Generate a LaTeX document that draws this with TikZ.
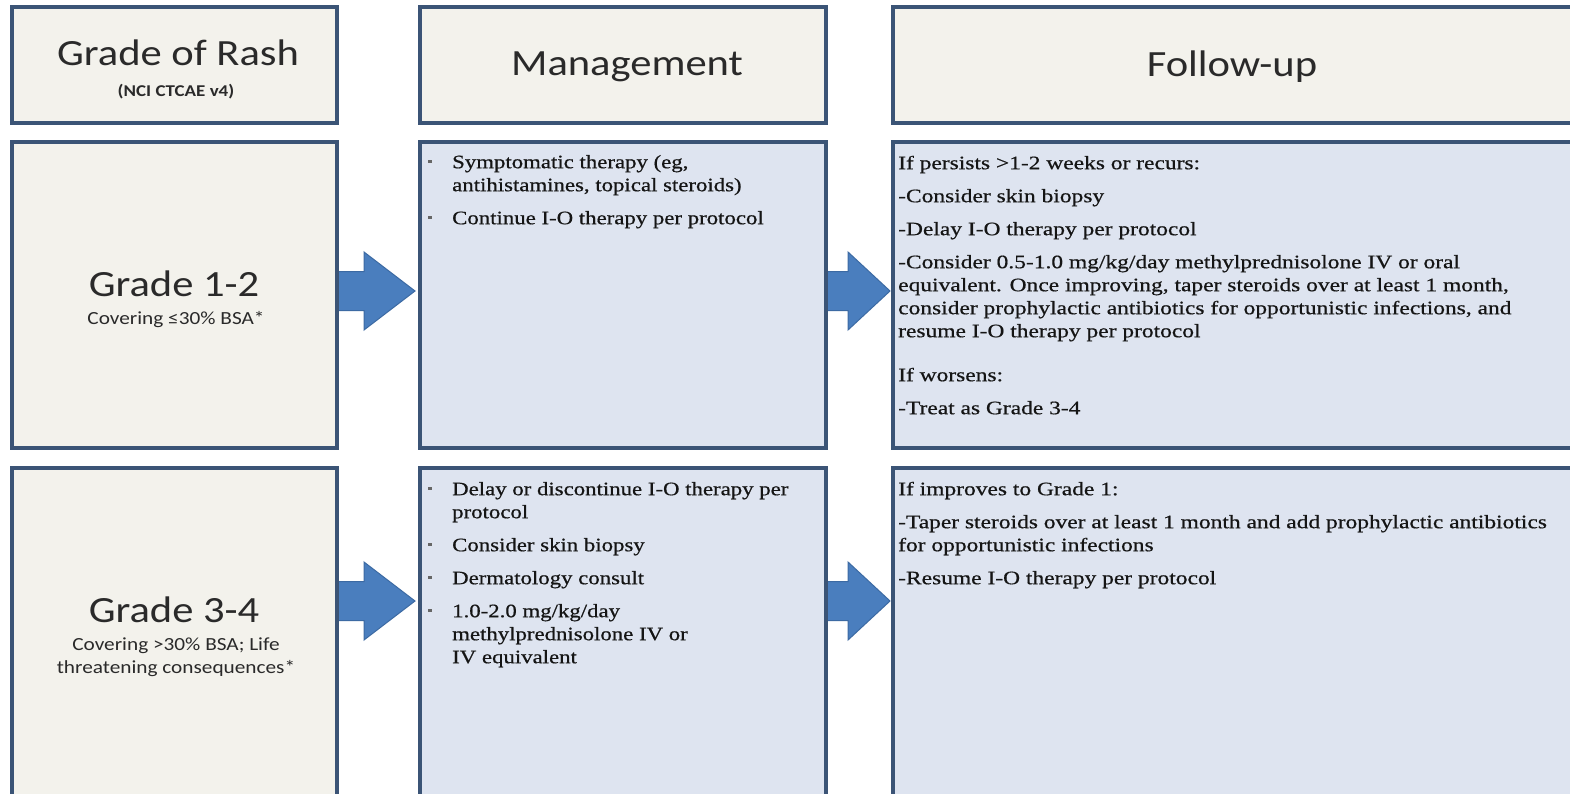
\documentclass[tikz,border=0pt]{standalone}
\usepackage{fontspec}
\setmainfont{Liberation Serif}[FakeStretch=1.2,FakeBold=0.6]
\newfontfamily\fufont{Liberation Serif}[FakeStretch=1.235,FakeBold=0.6]
\newfontfamily\headfont{Carlito}[FakeStretch=1.15]
\usetikzlibrary{calc}
\definecolor{bordc}{HTML}{3B5476}
\definecolor{cream}{HTML}{F3F2EC}
\definecolor{pale}{HTML}{DEE4F0}
\definecolor{arrfill}{HTML}{4A7EBE}
\definecolor{arrline}{HTML}{3C6AA3}
\definecolor{headtxt}{HTML}{2A2A2A}
\definecolor{bodytxt}{HTML}{151515}
\newcommand{\bul}{\makebox[24pt][l]{\textcolor{gray!80!black}{\rule[5pt]{3.5pt}{3pt}}}}
\newcommand{\ind}{\hspace*{24pt}}
\begin{document}
\begin{tikzpicture}[x=1pt,y=-1pt,
 box/.style={draw=bordc, line width=3.2pt, anchor=north west, inner sep=0pt, outer sep=0pt},
 creambox/.style={box, fill=cream},
 infobox/.style={box, fill=pale},
 bigtxt/.style={font=\headfont\fontsize{37}{40}\selectfont, text=headtxt, inner sep=0pt, anchor=center},
 subtxt/.style={font=\headfont\fontsize{18.5}{23}\selectfont, text=headtxt, inner sep=0pt, align=center},
 body/.style={font=\fontsize{19}{23}\selectfont, text=bodytxt, inner sep=0pt, anchor=north west, align=left},
 fubody/.style={body, font=\fufont\fontsize{19}{23}\selectfont},
 blockarr/.style={fill=arrfill, draw=arrline, line width=1pt, line join=miter}]

\useasboundingbox (0,0) rectangle (1570,794);
\clip (0,0) rectangle (1570,794);
\fill[white] (0,0) rectangle (1570,794);

% header row
\node[creambox, minimum width=325pt, minimum height=116pt] (h1) at (12,7) {};
\node[creambox, minimum width=406pt, minimum height=116pt] (h2) at (420,7) {};
\node[creambox, minimum width=679pt, minimum height=116pt] (h3) at (893,7) {};
% row 1
\node[creambox, minimum width=325pt, minimum height=306pt] (r1c1) at (12,142) {};
\node[infobox, minimum width=406pt, minimum height=306pt] (r1c2) at (420,142) {};
\node[infobox, minimum width=679pt, minimum height=306pt] (r1c3) at (893,142) {};
% row 2
\node[creambox, minimum width=325pt, minimum height=332pt] (r2c1) at (12,468) {};
\node[infobox, minimum width=406pt, minimum height=332pt] (r2c2) at (420,468) {};
\node[infobox, minimum width=679pt, minimum height=332pt] (r2c3) at (893,468) {};

% arrows
\coordinate (m1) at (0,291);
\coordinate (m2) at (0,601);
\draw[blockarr] let \p1=(r1c1.east), \p2=(r1c2.west), \p3=(m1) in
  (\x1,\y3+19.5pt) -- (\x2-56pt,\y3+19.5pt) -- (\x2-56pt,\y3+39pt) -- (\x2-5pt,\y3)
  -- (\x2-56pt,\y3-39pt) -- (\x2-56pt,\y3-19.5pt) -- (\x1,\y3-19.5pt) -- cycle;
\draw[blockarr] let \p1=(r1c2.east), \p2=(r1c3.west), \p3=(m1) in
  (\x1,\y3+19.5pt) -- (\x2-45pt,\y3+19.5pt) -- (\x2-45pt,\y3+39pt) -- (\x2-3pt,\y3)
  -- (\x2-45pt,\y3-39pt) -- (\x2-45pt,\y3-19.5pt) -- (\x1,\y3-19.5pt) -- cycle;
\draw[blockarr] let \p1=(r2c1.east), \p2=(r2c2.west), \p3=(m2) in
  (\x1,\y3+19.5pt) -- (\x2-56pt,\y3+19.5pt) -- (\x2-56pt,\y3+39pt) -- (\x2-5pt,\y3)
  -- (\x2-56pt,\y3-39pt) -- (\x2-56pt,\y3-19.5pt) -- (\x1,\y3-19.5pt) -- cycle;
\draw[blockarr] let \p1=(r2c2.east), \p2=(r2c3.west), \p3=(m2) in
  (\x1,\y3+19.5pt) -- (\x2-45pt,\y3+19.5pt) -- (\x2-45pt,\y3+39pt) -- (\x2-3pt,\y3)
  -- (\x2-45pt,\y3-39pt) -- (\x2-45pt,\y3-19.5pt) -- (\x1,\y3-19.5pt) -- cycle;
% redraw box borders over arrow shafts
\draw[draw=bordc, line width=3.2pt] (r1c1.north east) -- (r1c1.south east);
\draw[draw=bordc, line width=3.2pt] (r1c2.north east) -- (r1c2.south east);
\draw[draw=bordc, line width=3.2pt] (r2c1.north east) -- (r2c1.south east);
\draw[draw=bordc, line width=3.2pt] (r2c2.north east) -- (r2c2.south east);

% header texts
\node[bigtxt] (t-h1) at (178,53) {Grade of Rash};
\node[subtxt, font=\headfont\bfseries\fontsize{16.5}{20}\selectfont] (t-h1s) at (176,92) {(NCI CTCAE v4)};
\node[bigtxt] (t-h2) at (627,67) {Management};
\node[bigtxt] (t-h3) at (1232,67) {Follow-up};

% grade texts
\node[bigtxt] (t-g1) at (174,284) {Grade 1-2};
\node[subtxt] (t-g1s) at (176,320) {Covering ≤30\% BSA*};
\node[bigtxt] (t-g2) at (174,610) {Grade 3-4};
\node[subtxt] (t-g2s) at (176,657) {Covering >30\% BSA; Life\\threatening consequences*};

% management texts
\node[body] (t-m1) at (428,153) {\rule{0pt}{15pt}\bul Symptomatic therapy (eg,\\
\ind antihistamines, topical steroids)\\[10pt]
\bul Continue I-O therapy per protocol};
\node[body] (t-m2) at (428,480) {\rule{0pt}{15pt}\bul Delay or discontinue I-O therapy per\\
\ind protocol\\[10pt]
\bul Consider skin biopsy\\[10pt]
\bul Dermatology consult\\[10pt]
\bul 1.0-2.0 mg/kg/day\\
\ind methylprednisolone IV or\\
\ind IV equivalent};

% follow-up texts
\node[fubody] (t-f1) at (898,154) {\rule{0pt}{15pt}If persists >1-2 weeks or recurs:\\[10pt]
-Consider skin biopsy\\[10pt]
-Delay I-O therapy per protocol\\[10pt]
-Consider 0.5-1.0 mg/kg/day methylprednisolone IV or oral\\
equivalent. Once improving, taper steroids over at least 1 month,\\
consider prophylactic antibiotics for opportunistic infections, and\\
resume I-O therapy per protocol\\[21pt]
If worsens:\\[10pt]
-Treat as Grade 3-4};
\node[fubody] (t-f2) at (898,480) {\rule{0pt}{15pt}If improves to Grade 1:\\[10pt]
-Taper steroids over at least 1 month and add prophylactic antibiotics\\
for opportunistic infections\\[10pt]
-Resume I-O therapy per protocol};
\end{tikzpicture}
\end{document}
